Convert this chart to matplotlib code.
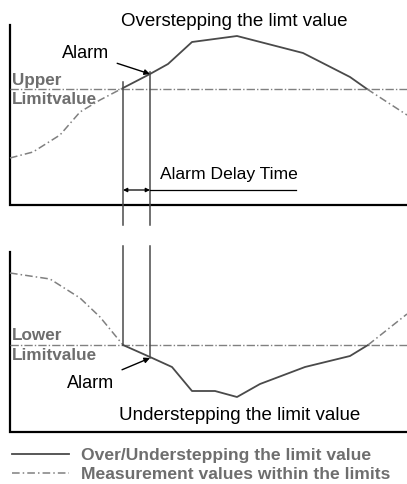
import matplotlib.pyplot as plt
from matplotlib.lines import Line2D

plt.rcParams['font.family'] = ['Liberation Sans', 'DejaVu Sans']

# diagram coordinates (pixel-like units, y grows downwards)
upper_limit = 89
lower_limit = 345

over_x = [10, 33, 60, 80, 100, 123, 150, 168, 192, 237, 303, 350, 367, 407]
over_y = [158, 152, 135, 112, 100, 88, 74, 64, 42, 36, 53, 77, 89, 115]
over_in = (5, 12)  # indices where the curve is above the limit

under_x = [10, 50, 80, 100, 123, 150, 172, 192, 215, 237, 260, 305, 350, 368, 407]
under_y = [273, 279, 298, 317, 345, 357, 367, 391, 391, 397, 384, 367, 356, 345, 314]
under_in = (4, 13)

alarm_start = 123
alarm_time = 150

solid_c = '#4a4a4a'
dash_c = '#808080'
label_c = '#6e6e6e'
dashes = (5, 2, 1, 2)

fig = plt.figure(figsize=(4.07, 4.84), dpi=100)
ax = fig.add_axes([0, 0, 1, 1])
ax.set_xlim(0, 407)
ax.set_ylim(484, 0)
ax.axis('off')

def curve(xs, ys, seg):
    a, b = seg
    ax.plot(xs[:a + 1], ys[:a + 1], color=dash_c, lw=1.1, dashes=dashes)
    ax.plot(xs[a:b + 1], ys[a:b + 1], color=solid_c, lw=1.3)
    ax.plot(xs[b:], ys[b:], color=dash_c, lw=1.1, dashes=dashes)

# axes frames
for top, bottom in [(25, 205), (252, 432)]:
    ax.plot([10, 10, 407], [top, bottom, bottom], color='black', lw=1.6,
            solid_joinstyle='miter')

# limit lines
for lim in (upper_limit, lower_limit):
    ax.plot([10, 407], [lim, lim], color=dash_c, lw=1.0, dashes=(6, 1.5, 1, 1.5))

curve(over_x, over_y, over_in)
curve(under_x, under_y, under_in)

# vertical marker lines through both panels (broken between them)
ax.plot([alarm_start, alarm_start], [82, 225], color=solid_c, lw=1.1)
ax.plot([alarm_time, alarm_time], [72, 225], color=solid_c, lw=1.1)
ax.plot([alarm_start, alarm_start], [246, lower_limit], color=solid_c, lw=1.1)
ax.plot([alarm_time, alarm_time], [246, 358], color=solid_c, lw=1.1)

# alarm delay time
ax.annotate('', xy=(alarm_start, 190), xytext=(alarm_time, 190),
            arrowprops=dict(arrowstyle='<|-|>', color='black', lw=0.9,
                            mutation_scale=6, shrinkA=0, shrinkB=0))
ax.plot([alarm_time, 296], [190, 190], color='black', lw=0.9)
ax.text(160, 175, 'Alarm Delay Time', fontsize=12.6, ha='left', va='center')

# alarm annotations
ax.annotate('Alarm', xy=(alarm_time, 74), xytext=(62, 53), fontsize=13,
            va='center', ha='left',
            arrowprops=dict(arrowstyle='-|>', color='black', lw=1.0,
                            mutation_scale=8, shrinkA=4, shrinkB=0))
ax.annotate('Alarm', xy=(alarm_time, 358), xytext=(67, 383), fontsize=13,
            va='center', ha='left',
            arrowprops=dict(arrowstyle='-|>', color='black', lw=1.0,
                            mutation_scale=8, shrinkA=4, shrinkB=0))

ax.text(234, 22, 'Overstepping the limt value', fontsize=13.5, ha='center', va='center')
ax.text(240, 415, 'Understepping the limit value', fontsize=13.5, ha='center', va='center')

# limit labels
ax.text(12, 80, 'Upper', fontsize=12.3, fontweight='bold', color=label_c, va='center')
ax.text(12, 99, 'Limitvalue', fontsize=12.3, fontweight='bold', color=label_c, va='center')
ax.text(12, 336, 'Lower', fontsize=12.3, fontweight='bold', color=label_c, va='center')
ax.text(12, 356, 'Limitvalue', fontsize=12.3, fontweight='bold', color=label_c, va='center')

# legend
handles = [Line2D([], [], color=solid_c, lw=1.3),
           Line2D([], [], color=dash_c, lw=1.1, dashes=dashes)]
labels = ['Over/Understepping the limit value',
          'Measurement values within the limits']
leg = ax.legend(handles, labels, loc='upper left', bbox_to_anchor=(0.0295, 0.074),
                frameon=False, handlelength=3.25, handletextpad=0.7,
                labelspacing=0.2, borderpad=0, borderaxespad=0,
                prop=dict(size=12.6, weight='bold'), labelcolor=label_c)

fig.savefig('out.png', dpi=100)
